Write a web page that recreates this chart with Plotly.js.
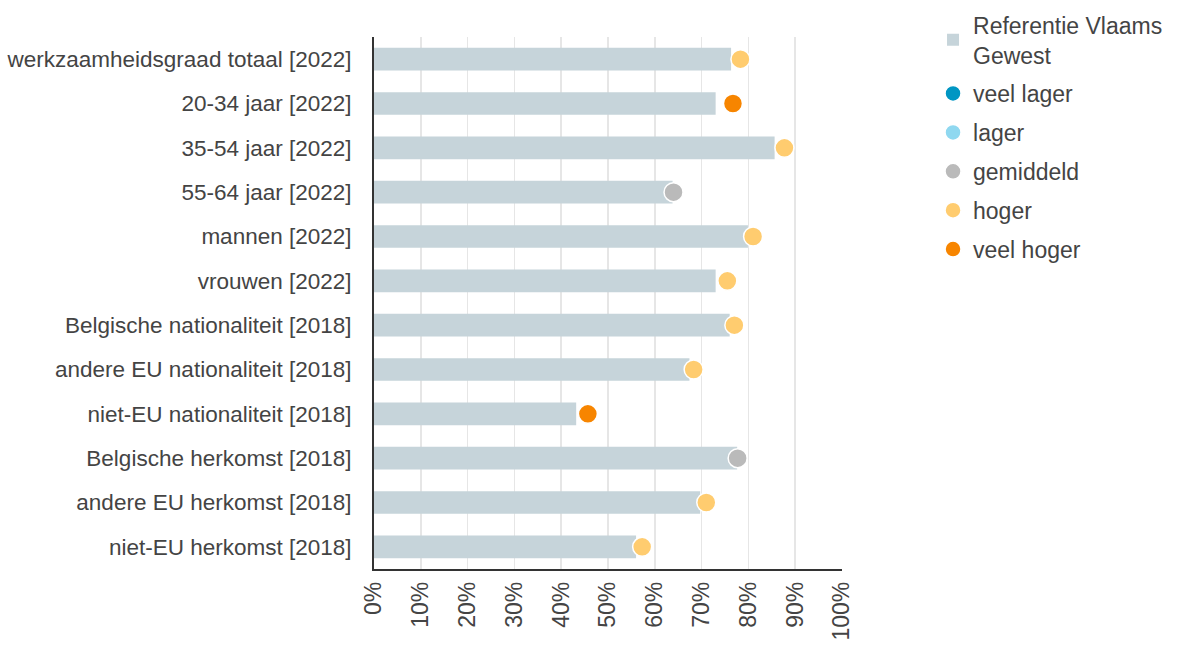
<!DOCTYPE html>
<html>
<head>
<meta charset="utf-8">
<script src="https://cdn.plot.ly/plotly-3.0.1.min.js"></script>
<style>
  body { margin: 0; background: #fff; }
  #chart { width: 1180px; height: 646px; }
</style>
</head>
<body>
<div id="chart"></div>
<script>
// categories on the y axis, top to bottom
var categories = [
  'werkzaamheidsgraad totaal [2022]',
  '20-34 jaar [2022]',
  '35-54 jaar [2022]',
  '55-64 jaar [2022]',
  'mannen [2022]',
  'vrouwen [2022]',
  'Belgische nationaliteit [2018]',
  'andere EU nationaliteit [2018]',
  'niet-EU nationaliteit [2018]',
  'Belgische herkomst [2018]',
  'andere EU herkomst [2018]',
  'niet-EU herkomst [2018]'
];
// Vlaams Gewest reference (bars)
var reference = [76.3, 73.0, 85.6, 63.8, 79.9, 73.0, 76.0, 67.4, 43.2, 77.6, 69.7, 56.0];
// local value (dots)
var values = [78.3, 76.7, 87.7, 64.0, 81.0, 75.5, 77.0, 68.3, 45.7, 77.7, 71.0, 57.3];
// class of each dot
var classes = ['hoger', 'veel hoger', 'hoger', 'gemiddeld', 'hoger', 'hoger', 'hoger', 'hoger', 'veel hoger', 'gemiddeld', 'hoger', 'hoger'];

var classNames = ['veel lager', 'lager', 'gemiddeld', 'hoger', 'veel hoger'];
var classColors = ['#0096c3', '#8fd8f0', '#bababa', '#ffcc6f', '#f78500'];
var xTicks = [0, 10, 20, 30, 40, 50, 60, 70, 80, 90, 100];
var xTickText = xTicks.map(function (t) { return t + '%'; });

var traces = [{
  type: 'bar',
  orientation: 'h',
  name: 'Referentie Vlaams<br>Gewest',
  legendgroup: 'ref',
  x: reference,
  y: categories,
  width: 0.51,
  marker: { color: '#c6d4da' },
  hoverinfo: 'x+y'
}];

classNames.forEach(function (c, i) {
  var xs = [], ys = [];
  values.forEach(function (v, j) {
    if (classes[j] === c) { xs.push(v); ys.push(categories[j]); }
  });
  if (xs.length === 0) { xs = [null]; ys = [categories[0]]; }
  traces.push({
    type: 'scatter',
    mode: 'markers',
    name: c,
    legendgroup: c,
    x: xs,
    y: ys,
    marker: { color: classColors[i], size: 19, line: { color: '#ffffff', width: 1.5 } },
    hoverinfo: 'x+y'
  });
});

var layout = {
  width: 1180,
  height: 646,
  margin: { l: 374, r: 338, t: 37, b: 77 },
  paper_bgcolor: '#ffffff',
  plot_bgcolor: '#ffffff',
  font: { family: 'Liberation Sans, Arial, sans-serif', size: 22, color: '#444444' },
  showlegend: true,
  legend: {
    xref: 'container', x: 0.7907, xanchor: 'left',
    yref: 'container', y: 0.995, yanchor: 'top',
    font: { size: 23, color: '#444444' },
    tracegroupgap: 6,
    itemwidth: 30
  },
  xaxis: {
    range: [0, 100],
    tickmode: 'array',
    tickvals: xTicks,
    ticktext: xTickText,
    tickangle: -90,
    tickfont: { size: 23, color: '#444444' },
    showgrid: true,
    gridcolor: '#e6e6e6',
    gridwidth: 1.5,
    zeroline: false,
    showline: true,
    linecolor: '#333333',
    linewidth: 1.5,
    ticks: 'outside',
    ticklen: 2,
    tickcolor: 'rgba(0,0,0,0)',
    automargin: false,
    fixedrange: true
  },
  yaxis: {
    type: 'category',
    range: [11.5, -0.5],
    showgrid: false,
    zeroline: false,
    showline: true,
    linecolor: '#333333',
    linewidth: 2,
    ticks: '',
    ticklabelstandoff: 16,
    tickfont: { size: 22.5, color: '#444444' },
    automargin: false,
    fixedrange: true
  },
  bargap: 0.49
};

Plotly.newPlot('chart', traces, layout, { displayModeBar: false, staticPlot: true });
</script>
</body>
</html>
